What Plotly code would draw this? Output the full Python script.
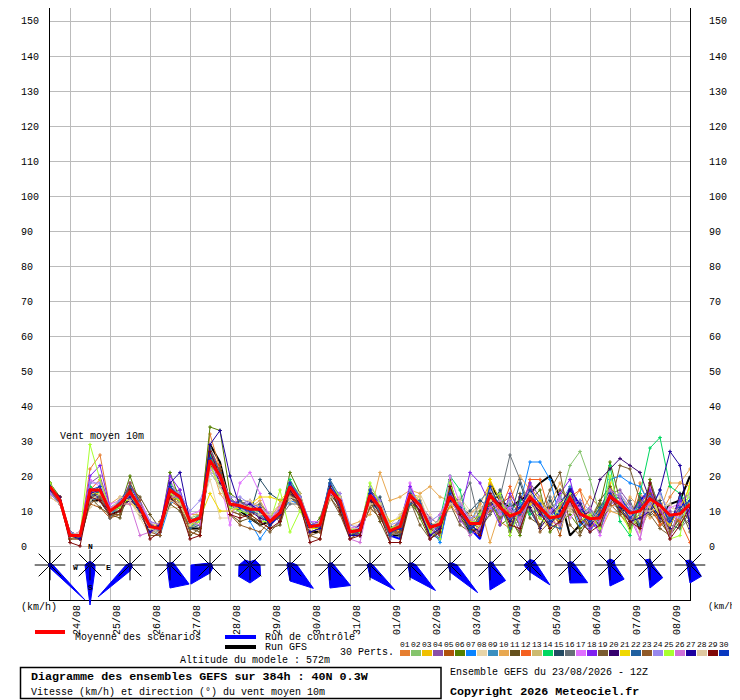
import math
import plotly.graph_objects as go

# 6-hourly steps over 384h, run of 23/08/2026 12Z
hours = list(range(0, 390, 6))
day_hours = list(range(12, 384, 24))
day_labels = ["24/08", "25/08", "26/08", "27/08", "28/08", "29/08", "30/08", "31/08",
              "01/09", "02/09", "03/09", "04/09", "05/09", "06/09", "07/09", "08/09"]
y_ticks = list(range(0, 160, 10))

mean_run = [17, 13, 3, 3, 16, 16, 10, 12, 15.5, 11, 5.5, 5, 16, 14, 7, 8,
            24.5, 20, 12, 11.5, 10.5, 10.5, 7, 9.5, 17, 13, 5.5, 6, 16, 13, 4, 4.5,
            14.5, 11, 4.3, 5.6, 14.5, 11.6, 5.4, 6.2, 14.2, 10.2, 6.4, 6.4, 14.5, 11, 8.5, 9.7,
            14, 11, 8, 8.5, 13.8, 9.2, 7.8, 8, 14.2, 12, 9.4, 10, 13.5, 11.6, 8.8, 9.2, 12]
control_run = [16, 13, 3, 2, 15, 14, 9, 12, 15, 11, 6, 4, 17, 13, 6, 9,
               26, 19, 12, 12, 9, 11, 6, 9, 18, 14, 6, 5, 18, 13, 3, 4,
               15, 12, 3, 2, 14, 12, 4, 2, 15, 10, 5, 2, 13, 9, 11, 8,
               13, 9, 12, 6, 17, 11, 7, 5, 13, 14, 9, 13, 16, 10, 6, 13, 9]
gfs_run = [16, 13, 3, 2, 13, 13, 9, 10, 14, 10, 4, 5, 13, 14, 5, 5,
           29, 24, 12, 10, 8, 6, 7, 10, 15, 12, 4, 4, 15, 12, 3, 4,
           13, 10, 3, 3, 13, 10, 6, 5, 15, 8, 4, 5, 18, 13, 11, 13,
           15, 18, 20, 14, 3, 6, 9, 6, 15, 11, 9, 5, 11, 8, 12, 13, 20]

pert_01 = [16, 13, 4, 3, 22, 26, 11, 12, 16, 10, 6, 5, 15, 13, 6, 8, 32, 22, 13, 12, 11, 9, 8, 10, 18, 14, 6, 7, 17, 14, 5, 5, 15, 10, 5, 7, 16, 12, 7, 4, 12, 8, 9, 12, 18, 7, 5, 13, 17, 13, 10, 6, 12, 9, 14, 11, 16, 10, 7, 18, 11, 9, 14, 18, 17]
pert_02 = [17, 14, 4, 2, 14, 15, 9, 11, 14, 12, 5, 4, 18, 15, 8, 9, 23, 18, 14, 10, 12, 8, 6, 10, 15, 12, 7, 5, 15, 12, 5, 3, 13, 12, 6, 4, 12, 10, 4, 8, 16, 9, 3, 9, 13, 15, 6, 7, 12, 9, 11, 13, 23, 27, 19, 9, 12, 14, 6, 11, 17, 9, 6, 12, 14]
pert_03 = [16, 13, 2, 3, 17, 14, 10, 13, 13, 9, 6, 6, 14, 12, 5, 7, 27, 21, 11, 13, 9, 12, 8, 8, 18, 13, 4, 7, 16, 15, 3, 5, 17, 9, 3, 5, 15, 14, 5, 7, 11, 12, 8, 4, 19, 9, 12, 6, 16, 8, 5, 11, 15, 7, 10, 6, 18, 9, 5, 8, 12, 13, 4, 8, 18]
pert_04 = [15, 12, 3, 4, 18, 20, 11, 12, 17, 13, 7, 4, 15, 16, 6, 9, 22, 19, 13, 12, 13, 7, 9, 7, 16, 14, 6, 4, 18, 11, 4, 6, 14, 13, 2, 6, 13, 12, 8, 6, 17, 7, 6, 9, 12, 13, 10, 4, 18, 14, 7, 9, 11, 12, 6, 10, 15, 16, 12, 5, 14, 7, 10, 6, 12]
pert_05 = [18, 13, 4, 2, 12, 11, 8, 9, 16, 10, 4, 7, 13, 11, 4, 3, 25, 23, 10, 9, 8, 11, 5, 12, 14, 11, 3, 6, 14, 13, 2, 4, 11, 8, 5, 3, 16, 9, 3, 5, 13, 11, 9, 7, 10, 12, 14, 8, 11, 6, 10, 3, 16, 10, 5, 8, 11, 13, 7, 9, 15, 6, 8, 11, 7]
pert_06 = [18, 14, 3, 3, 15, 17, 10, 11, 20, 12, 6, 5, 21, 13, 6, 7, 34, 33, 15, 13, 11, 10, 8, 8, 21, 15, 5, 8, 17, 12, 4, 3, 16, 13, 4, 5, 14, 8, 2, 4, 19, 8, 5, 10, 15, 6, 8, 3, 13, 16, 4, 7, 9, 5, 7, 12, 24, 13, 8, 6, 19, 10, 3, 7, 13]
pert_07 = [16, 13, 3, 3, 13, 14, 8, 13, 15, 11, 5, 3, 12, 14, 7, 8, 21, 17, 12, 13, 7, 2, 6, 9, 13, 12, 6, 6, 18, 13, 5, 5, 12, 10, 4, 6, 13, 13, 6, 1, 14, 9, 7, 8, 11, 10, 9, 12, 24, 24, 19, 8, 13, 6, 9, 7, 19, 20, 18, 17, 12, 8, 5, 14, 9]
pert_08 = [14, 12, 2, 4, 11, 13, 11, 11, 13, 8, 3, 6, 11, 11, 8, 10, 19, 8, 8, 13, 13, 11, 9, 11, 13, 10, 4, 7, 13, 14, 6, 6, 13, 11, 7, 8, 11, 15, 9, 5, 13, 14, 10, 11, 9, 12, 7, 11, 10, 13, 9, 5, 11, 12, 8, 13, 10, 9, 11, 7, 9, 14, 11, 10, 8]
pert_09 = [15, 13, 3, 2, 16, 14, 9, 12, 14, 11, 5, 4, 17, 14, 6, 6, 26, 20, 11, 10, 11, 9, 6, 9, 17, 14, 5, 5, 16, 12, 4, 5, 15, 9, 3, 7, 15, 13, 4, 6, 14, 11, 6, 13, 16, 8, 12, 6, 15, 11, 8, 12, 17, 8, 4, 9, 13, 10, 8, 12, 9, 16, 7, 13, 15]
pert_10 = [14, 12, 3, 3, 14, 16, 12, 14, 15, 10, 7, 6, 14, 12, 9, 9, 24, 15, 11, 12, 11, 13, 8, 12, 16, 11, 6, 4, 15, 11, 6, 7, 9, 21, 13, 14, 16, 15, 17, 14, 13, 9, 6, 12, 1, 10, 13, 20, 16, 8, 12, 18, 12, 16, 11, 4, 10, 9, 14, 11, 8, 10, 18, 18, 22]
pert_11 = [17, 13, 3, 2, 14, 11, 9, 8, 17, 14, 9, 5, 12, 10, 3, 5, 23, 21, 9, 7, 8, 7, 5, 6, 15, 12, 5, 6, 14, 10, 3, 3, 13, 7, 1, 1, 12, 9, 3, 4, 18, 10, 7, 5, 9, 13, 4, 15, 8, 6, 11, 16, 13, 4, 7, 13, 17, 11, 5, 12, 10, 7, 3, 9, 6]
pert_12 = [17, 14, 4, 3, 16, 19, 10, 12, 16, 12, 6, 5, 15, 13, 7, 8, 28, 22, 12, 13, 10, 11, 7, 11, 16, 13, 5, 6, 17, 14, 4, 4, 14, 13, 5, 4, 15, 11, 5, 7, 16, 12, 5, 7, 13, 10, 17, 8, 19, 19, 9, 11, 14, 16, 5, 9, 11, 13, 7, 15, 12, 6, 9, 7, 1]
pert_13 = [16, 13, 2, 3, 15, 13, 9, 13, 14, 11, 4, 4, 16, 15, 6, 7, 25, 18, 10, 11, 9, 10, 8, 10, 18, 15, 6, 7, 15, 13, 5, 6, 16, 10, 4, 6, 13, 12, 6, 5, 12, 10, 8, 5, 15, 12, 9, 11, 12, 14, 6, 9, 10, 8, 6, 5, 13, 15, 10, 4, 11, 12, 7, 10, 13]
pert_14 = [18, 13, 3, 3, 17, 15, 10, 12, 15, 10, 5, 5, 18, 14, 7, 9, 26, 19, 13, 12, 10, 10, 6, 9, 19, 14, 5, 6, 17, 13, 4, 5, 14, 11, 5, 6, 16, 12, 5, 8, 20, 16, 4, 9, 12, 8, 10, 13, 9, 11, 7, 10, 15, 9, 11, 6, 23, 7, 3, 15, 28, 31, 17, 15, 11]
pert_15 = [16, 12, 3, 2, 13, 16, 11, 11, 17, 9, 4, 6, 14, 13, 5, 6, 24, 22, 11, 10, 9, 19, 15, 13, 14, 12, 4, 5, 15, 11, 3, 4, 12, 14, 6, 3, 14, 10, 7, 3, 15, 8, 10, 13, 11, 16, 8, 18, 10, 5, 13, 7, 12, 13, 6, 11, 14, 12, 8, 14, 10, 13, 6, 5, 10]
pert_16 = [17, 13, 4, 3, 15, 14, 10, 10, 16, 11, 6, 4, 16, 12, 8, 7, 23, 20, 14, 11, 11, 12, 9, 8, 12, 12, 6, 5, 16, 12, 4, 3, 15, 10, 3, 8, 15, 11, 6, 5, 14, 13, 18, 6, 9, 14, 26, 19, 11, 8, 14, 6, 12, 10, 7, 4, 15, 9, 13, 6, 18, 11, 9, 5, 8]
pert_17 = [15, 13, 3, 4, 19, 17, 12, 13, 14, 13, 7, 6, 19, 13, 9, 10, 22, 19, 6, 18, 21, 15, 8, 11, 17, 12, 7, 7, 17, 15, 5, 6, 15, 12, 5, 5, 18, 10, 4, 3, 20, 12, 7, 8, 14, 9, 11, 7, 14, 12, 10, 13, 8, 11, 9, 3, 12, 13, 10, 2, 17, 8, 11, 12, 15]
pert_18 = [17, 13, 3, 3, 20, 23, 11, 12, 18, 12, 6, 5, 20, 16, 7, 8, 27, 21, 13, 12, 12, 10, 8, 9, 18, 14, 6, 7, 18, 12, 5, 3, 16, 12, 4, 7, 17, 11, 6, 4, 17, 9, 21, 18, 12, 6, 15, 10, 18, 9, 8, 15, 19, 8, 5, 7, 15, 12, 9, 12, 16, 10, 6, 13, 10]
pert_19 = [16, 12, 2, 2, 14, 15, 9, 9, 16, 10, 3, 3, 15, 11, 5, 4, 24, 20, 10, 9, 8, 6, 4, 7, 16, 11, 3, 4, 14, 9, 2, 4, 11, 8, 3, 4, 13, 6, 2, 5, 12, 6, 4, 9, 13, 11, 7, 4, 14, 9, 16, 21, 6, 3, 9, 7, 11, 23, 22, 13, 9, 5, 3, 11, 4]
pert_20 = [17, 14, 3, 3, 16, 13, 10, 11, 13, 11, 5, 6, 13, 15, 6, 9, 25, 18, 12, 11, 10, 8, 7, 8, 15, 13, 5, 7, 15, 14, 4, 6, 13, 11, 5, 5, 14, 12, 5, 6, 13, 11, 7, 3, 12, 15, 3, 14, 11, 5, 9, 12, 16, 8, 10, 19, 22, 25, 23, 21, 13, 8, 5, 15, 7]
pert_21 = [16, 13, 3, 2, 15, 15, 11, 12, 12, 11, 6, 5, 14, 13, 6, 8, 15, 10, 10, 11, 12, 14, 14, 13, 16, 13, 5, 5, 16, 13, 4, 5, 14, 12, 7, 8, 15, 13, 4, 7, 13, 10, 7, 6, 19, 13, 9, 10, 12, 13, 9, 7, 13, 10, 8, 9, 14, 11, 7, 8, 13, 9, 6, 11, 17]
pert_22 = [17, 13, 4, 3, 14, 16, 10, 13, 17, 12, 5, 4, 16, 13, 5, 8, 28, 21, 11, 13, 10, 9, 6, 10, 17, 13, 6, 6, 19, 14, 4, 4, 15, 10, 3, 6, 12, 13, 3, 6, 16, 11, 4, 8, 14, 11, 5, 9, 13, 11, 6, 5, 15, 9, 7, 11, 16, 14, 10, 6, 14, 12, 8, 10, 13]
pert_23 = [18, 13, 2, 2, 12, 14, 8, 10, 18, 13, 4, 3, 17, 14, 4, 3, 24, 22, 9, 6, 5, 4, 7, 8, 15, 11, 3, 2, 15, 12, 3, 3, 12, 9, 4, 4, 13, 10, 5, 3, 14, 9, 5, 4, 12, 8, 10, 6, 16, 4, 7, 9, 11, 8, 6, 10, 12, 9, 6, 11, 15, 11, 4, 8, 9]
pert_24 = [15, 12, 4, 3, 18, 18, 11, 13, 15, 12, 7, 6, 16, 15, 10, 13, 21, 20, 14, 14, 12, 11, 9, 10, 16, 14, 7, 6, 17, 15, 6, 5, 17, 13, 6, 7, 16, 12, 7, 9, 15, 12, 8, 9, 16, 10, 13, 6, 13, 12, 9, 14, 12, 13, 10, 6, 13, 15, 11, 9, 12, 15, 9, 8, 11]
pert_25 = [18, 13, 3, 3, 29, 19, 10, 11, 14, 10, 5, 5, 15, 13, 6, 7, 23, 17, 11, 10, 9, 7, 7, 16, 4, 10, 5, 6, 18, 14, 5, 4, 18, 12, 5, 6, 15, 11, 4, 2, 18, 10, 6, 9, 13, 15, 3, 11, 14, 8, 6, 12, 15, 7, 9, 5, 20, 11, 4, 10, 14, 9, 2, 3, 17]
pert_26 = [16, 13, 3, 4, 15, 16, 11, 12, 12, 3, 4, 5, 14, 14, 7, 6, 24, 19, 12, 11, 10, 11, 8, 10, 16, 13, 6, 6, 15, 13, 2, 1, 14, 11, 4, 6, 13, 11, 2, 9, 14, 8, 3, 5, 11, 13, 10, 8, 13, 9, 7, 6, 12, 8, 11, 7, 16, 14, 8, 2, 14, 12, 2, 12, 9]
pert_27 = [16, 13, 3, 2, 15, 16, 10, 12, 14, 10, 4, 6, 18, 21, 7, 8, 29, 33, 20, 11, 12, 10, 6, 9, 16, 12, 4, 5, 17, 12, 3, 3, 15, 11, 4, 5, 14, 10, 3, 5, 13, 10, 6, 4, 14, 12, 7, 11, 14, 9, 6, 10, 16, 12, 6, 9, 14, 11, 7, 8, 10, 16, 27, 23, 5]
pert_28 = [14, 12, 3, 4, 13, 15, 10, 14, 13, 9, 5, 4, 13, 12, 6, 9, 21, 17, 10, 12, 11, 9, 9, 12, 14, 13, 5, 7, 14, 14, 5, 5, 12, 12, 6, 9, 13, 14, 6, 7, 12, 13, 9, 11, 13, 11, 8, 10, 15, 10, 12, 9, 11, 10, 7, 8, 11, 12, 9, 10, 10, 11, 12, 9, 12]
pert_29 = [17, 13, 1, 0, 14, 13, 9, 10, 16, 11, 2, 4, 14, 11, 2, 3, 27, 20, 9, 8, 9, 7, 5, 7, 16, 12, 1, 2, 17, 10, 2, 3, 14, 9, 1, 1, 14, 10, 2, 4, 17, 9, 5, 3, 15, 12, 6, 5, 13, 10, 5, 7, 13, 7, 4, 6, 14, 10, 7, 5, 18, 9, 2, 6, 11]
pert_30 = [17, 13, 3, 3, 16, 17, 10, 12, 15, 11, 6, 5, 17, 14, 7, 8, 25, 20, 12, 11, 10, 11, 7, 10, 18, 13, 6, 6, 18, 13, 4, 5, 16, 11, 4, 5, 15, 12, 6, 6, 15, 10, 5, 7, 17, 11, 8, 11, 16, 12, 7, 9, 14, 10, 7, 9, 15, 12, 8, 11, 14, 12, 7, 11, 13]
pert_runs = [pert_01, pert_02, pert_03, pert_04, pert_05, pert_06, pert_07, pert_08, pert_09, pert_10,
             pert_11, pert_12, pert_13, pert_14, pert_15, pert_16, pert_17, pert_18, pert_19, pert_20,
             pert_21, pert_22, pert_23, pert_24, pert_25, pert_26, pert_27, pert_28, pert_29, pert_30]
pert_colors = ["#e67e30", "#85c46c", "#f0c000", "#8a4fa8", "#b0520c", "#558000", "#0a84ff", "#e8d5a8",
               "#3a8fc0", "#e8a850", "#65501c", "#f56020", "#cdba70", "#00d860", "#234b63", "#667077",
               "#e070ff", "#8020f0", "#7a5c30", "#35006e", "#f0d800", "#2060a0", "#905a28", "#9988ee",
               "#a8ff30", "#d070d8", "#1c00a0", "#dfc8a0", "#800808", "#0838c0"]

# wind rose sectors, one list per direction, 17 roses (every 24h)
rose_hours = list(range(0, 408, 24))
rose_n = [2, 3.5, 2, 2, 2, 3.3, 2, 2, 2, 2, 2, 3, 5.5, 3.3, 6, 6, 5]
rose_ne = [2, 3.5, 2, 4, 2, 7, 3, 3, 2, 3, 3, 4, 6, 4, 6, 3, 4]
rose_e = [3, 5, 2, 5, 2, 10, 7, 4, 3, 6, 7, 4, 7, 5, 5, 3, 5]
rose_se = [49, 7, 3, 27, 4, 15, 33, 29, 35, 36, 39, 22, 28, 25, 20, 18, 16]
rose_s = [3, 40, 6, 23, 8, 18, 16, 23, 12, 12, 7, 25, 7, 18, 21, 23, 18]
rose_sw = [1, 7, 45, 4, 27, 16, 4, 3, 3, 2, 2, 2, 5, 2, 3, 3, 3]
rose_w = [1, 5, 4, 3, 19, 11, 3, 2, 3, 2, 2, 2, 6, 2, 2, 3, 3]
rose_nw = [1, 3.5, 2, 3, 2, 7, 3, 2, 2, 2, 2, 2, 4, 3, 5, 7, 6]
rose_sectors = [rose_n, rose_ne, rose_e, rose_se, rose_s, rose_sw, rose_w, rose_nw]

# page is offset by the browser's body margin
PAGE_OFF = 8
FIG_W, FIG_H = 732, 692
LEFT, RIGHT, BOTTOM_PX = 50, 690, 600
ZERO_PX = 546
PX_PER_KMH = 3.5
PX_PER_HOUR = (RIGHT - LEFT) / 384
MONO = "Liberation Mono, DejaVu Sans Mono, monospace"
GRID = "#bbbbbb"


def paper_x(px):
    return (px - PAGE_OFF) / FIG_W


def paper_y(py):
    return 1 - (py - PAGE_OFF) / FIG_H


def label(px, py, text, size=10, bold=False, anchor="left", color="black"):
    if bold:
        text = "<b>" + text + "</b>"
    return dict(x=paper_x(px), y=paper_y(py), xref="paper", yref="paper", text=text,
                showarrow=False, xanchor=anchor, yanchor="middle", align=anchor, borderpad=0,
                font=dict(family=MONO, size=size, color=color))


fig = go.Figure()

# GFS and control go first, the scenarios are drawn over them
fig.add_trace(go.Scatter(x=hours, y=gfs_run, mode="lines", line=dict(color="black", width=2), showlegend=False))
fig.add_trace(go.Scatter(x=hours, y=control_run, mode="lines", line=dict(color="#0000ff", width=2), showlegend=False))

for n, (run, col) in enumerate(zip(pert_runs, pert_colors)):
    fig.add_trace(go.Scatter(x=hours, y=run, mode="lines+markers", name=f"{n + 1:02d}",
                             line=dict(color=col, width=1),
                             marker=dict(symbol="cross", size=3, color=col),
                             showlegend=False))

fig.add_trace(go.Scatter(x=hours, y=mean_run, mode="lines", line=dict(color="#ff0000", width=3), showlegend=False))

# wind roses sit on a full-page subplot so they can overrun the frame
rose_y = -(565 - ZERO_PX) / PX_PER_KMH
for i, h in enumerate(rose_hours):
    xs, ys = [], []
    for j in range(9):
        r = rose_sectors[j % 8][i]
        a = math.radians(45 * j)
        xs.append(h + r * math.sin(a) / PX_PER_HOUR)
        ys.append(rose_y + r * math.cos(a) / PX_PER_KMH)
    fig.add_trace(go.Scatter(x=xs, y=ys, xaxis="x2", yaxis="y2", mode="lines", fill="toself",
                             fillcolor="#0000ff", line=dict(color="#0000ff", width=1),
                             hoverinfo="skip", showlegend=False))
    sx, sy = [], []
    for j in range(4):
        spoke = 15.3 if j % 2 == 0 else 16
        a = math.radians(45 * j)
        sx += [h - spoke * math.sin(a) / PX_PER_HOUR, h + spoke * math.sin(a) / PX_PER_HOUR, None]
        sy += [rose_y - spoke * math.cos(a) / PX_PER_KMH, rose_y + spoke * math.cos(a) / PX_PER_KMH, None]
    fig.add_trace(go.Scatter(x=sx, y=sy, xaxis="x2", yaxis="y2", mode="lines",
                             line=dict(color="black", width=1), hoverinfo="skip", showlegend=False))
fig.add_trace(go.Scatter(x=rose_hours, y=[rose_y] * len(rose_hours), xaxis="x2", yaxis="y2", mode="markers",
                         marker=dict(color="#000080", size=4), hoverinfo="skip", showlegend=False))

annotations = []
for t in y_ticks:
    py = ZERO_PX - t * PX_PER_KMH + 1
    annotations.append(label(20, py, str(t)))
    annotations.append(label(708, py, str(t)))

annotations += [
    label(59, 436, "Vent moyen 10m"),
    label(90.5, 546, "N", size=8, anchor="center", bold=True),
    label(75, 567, "W", size=8, anchor="center", bold=True),
    label(108.5, 567, "E", size=8, anchor="center", bold=True),
    label(90.5, 587, "S", size=8, anchor="center", bold=True),
    label(20, 607, "(km/h)"),
    label(707, 607, "(km/h)", size=9),
    label(74, 637, "Moyenne des scénarios"),
    label(264, 637, "Run de contrôle"),
    label(264, 647, "Run GFS"),
    label(339, 652, "30 Perts."),
    label(179, 660, "Altitude du modele : 572m"),
    label(30, 677, "Diagramme des ensembles GEFS sur 384h : 40N 0.3W", size=11.7, bold=True),
    label(30, 692, "Vitesse (km/h) et direction (°) du vent moyen 10m"),
    label(449, 672, "Ensemble GEFS du 23/08/2026 - 12Z"),
    label(449, 692, "Copyright 2026 Meteociel.fr", size=11.7, bold=True),
]

shapes = [
    dict(type="line", xref="paper", yref="paper", x0=paper_x(35), x1=paper_x(65), y0=paper_y(632), y1=paper_y(632),
         line=dict(color="#ff0000", width=4)),
    dict(type="line", xref="paper", yref="paper", x0=paper_x(225), x1=paper_x(256), y0=paper_y(637), y1=paper_y(637),
         line=dict(color="#0000ff", width=4)),
    dict(type="line", xref="paper", yref="paper", x0=paper_x(225), x1=paper_x(256), y0=paper_y(647), y1=paper_y(647),
         line=dict(color="black", width=4)),
    dict(type="rect", xref="paper", yref="paper", x0=paper_x(20.5), x1=paper_x(441), y0=paper_y(667.5), y1=paper_y(698.5),
         line=dict(color="black", width=1.5), fillcolor="white", layer="below"),
]
for n, col in enumerate(pert_colors):
    px = 400 + 11 * n
    shapes.append(dict(type="rect", xref="paper", yref="paper", x0=paper_x(px), x1=paper_x(px + 10),
                       y0=paper_y(650), y1=paper_y(656), fillcolor=col, line=dict(width=0)))
    annotations.append(label(px + 5, 644, f"{n + 1:02d}", size=8, anchor="center"))

fig.update_layout(
    width=FIG_W,
    height=FIG_H,
    margin=dict(l=0, r=0, t=0, b=0),
    paper_bgcolor="white",
    plot_bgcolor="rgba(0,0,0,0)",
    showlegend=False,
    hovermode="closest",
    annotations=annotations,
    shapes=shapes,
    xaxis=dict(domain=[paper_x(LEFT), paper_x(RIGHT)], range=[0, 384], tickmode="array", tickvals=day_hours,
               ticktext=day_labels, tickangle=-90, ticklabelshift=7, ticklabelstandoff=0, ticks="",
               showgrid=True, gridcolor=GRID, gridwidth=1, zeroline=False, showline=True, linecolor="black",
               linewidth=1, tickfont=dict(family=MONO, size=10, color="black")),
    yaxis=dict(domain=[paper_y(BOTTOM_PX), 1], range=[-(BOTTOM_PX - ZERO_PX) / PX_PER_KMH, (ZERO_PX - PAGE_OFF) / PX_PER_KMH],
               tickmode="array", tickvals=y_ticks, showticklabels=False, ticks="",
               showgrid=True, gridcolor=GRID, gridwidth=1, zeroline=False, showline=True, linecolor="black",
               linewidth=1, mirror=True),
    xaxis2=dict(domain=[0, 1], range=[(PAGE_OFF - LEFT) / PX_PER_HOUR, (PAGE_OFF + FIG_W - LEFT) / PX_PER_HOUR],
                visible=False, anchor="y2"),
    yaxis2=dict(domain=[0, 1], range=[(ZERO_PX - PAGE_OFF - FIG_H) / PX_PER_KMH, (ZERO_PX - PAGE_OFF) / PX_PER_KMH],
                visible=False, anchor="x2"),
)

fig.write_html("out.html")
